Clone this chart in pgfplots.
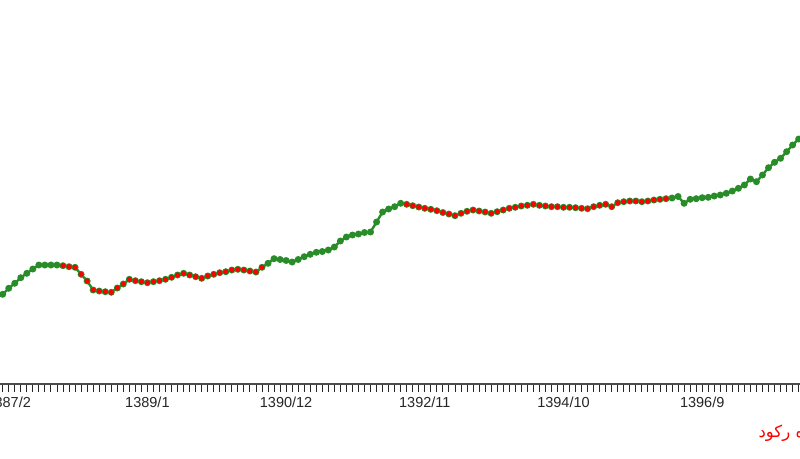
\documentclass[border=0pt]{standalone}
\usepackage{pgfplots}
\pgfplotsset{compat=1.18}
\usepackage{pgfplotstable}
\usepackage{fontspec}
\setmainfont{Liberation Sans}
\newfontfamily\arabicfont[Script=Arabic]{DejaVu Sans}
\TeXXeTstate=1
\definecolor{lg}{RGB}{40,140,40}
\definecolor{rr}{RGB}{255,0,0}
\pgfplotstableread{
i v r
0 89.7 0
1 95.7 0
2 100.7 0
3 106.3 0
4 110.7 0
5 115 0
6 119 0
7 119 0
8 119 0
9 119 0
10 118.3 1
11 117.3 1
12 116.7 1
13 109.7 1
14 103 1
15 94 1
16 93 1
17 92.3 1
18 91.7 1
19 96 1
20 100 1
21 104.7 1
22 103.3 1
23 102.3 1
24 101.3 1
25 102.3 1
26 103.3 1
27 104.7 1
28 106.7 1
29 109 1
30 110.7 1
31 109 1
32 107.3 1
33 105.7 1
34 108 1
35 109.7 1
36 111.3 1
37 112.3 1
38 114 1
39 114.7 1
40 114 1
41 113 1
42 112 1
43 116.7 1
44 120.7 0
45 125.3 0
46 124.5 0
47 123.5 0
48 122 0
49 124.5 0
50 127.3 0
51 129.7 0
52 131.7 0
53 132.5 0
54 134 0
55 137 0
56 143 0
57 147 0
58 149 0
59 150 0
60 151.5 0
61 152 0
62 162 0
63 172 0
64 175 0
65 177.3 0
66 180.7 0
67 179.7 1
68 178.3 1
69 177 1
70 175.7 1
71 174.7 1
72 173.3 1
73 171.5 1
74 170 1
75 168.3 1
76 170.7 1
77 172.7 1
78 174 1
79 173 1
80 172 1
81 170.7 1
82 172.3 1
83 174 1
84 175.7 1
85 176.7 1
86 178 1
87 178.7 1
88 179.7 1
89 178.7 1
90 178 1
91 177.3 1
92 177.3 1
93 176.7 1
94 176.7 1
95 176.3 1
96 175.7 1
97 175.3 1
98 177.3 1
99 178.7 1
100 179.7 1
101 177.3 1
102 181.3 1
103 182.3 1
104 183 1
105 183 1
106 182.3 1
107 183 1
108 184 1
109 184.7 1
110 185.3 1
111 186 0
112 187.5 0
113 180.7 0
114 184.7 0
115 185.3 0
116 186.3 0
117 186.7 0
118 188 0
119 189 0
120 190.7 0
121 193 0
122 195.7 0
123 199 0
124 205 0
125 202.3 0
126 209 0
127 216.3 0
128 221.7 0
129 225.7 0
130 232.3 0
131 239 0
132 245 0
133 250 0
}\data
\begin{document}
\begin{tikzpicture}[x=1pt,y=1pt]
\useasboundingbox (0,0) rectangle (800,-458);
\clip (0,0) rectangle (800,-458);
\begin{axis}[
  at={(-9.36pt,-384pt)}, anchor=south west,
  x=6.03pt, y=1pt,
  xmin=-2, xmax=135, ymin=0, ymax=384,
  axis x line=bottom, axis y line=none,
  axis line style={-, black!70, line width=1.4pt},
  xtick={1,24,47,70,93,116},
  xticklabels={1387/2,1389/1,1390/12,1392/11,1394/10,1396/9},
  minor xtick={-2,...,135},
  tick align=outside,
  major tick length=8pt, minor tick length=8pt,
  tick style={black!85, line width=0.9pt},
  xticklabel style={font=\fontsize{14.5}{16}\selectfont, text=black!85, yshift=-1.5pt},
  unbounded coords=discard,
]
\addplot[lg, line width=2.4pt, mark=*, mark size=2.2pt, mark options={fill=lg, draw=lg}] table[x=i, y=v] {\data};
\addplot[only marks, mark=*, mark size=2.3pt, mark options={fill=rr, draw=rr}, x filter/.expression={\thisrow{r}==1 ? \pgfmathresult : nan}] table[x=i, y=v] {\data};
\end{axis}
\node[anchor=east, text=rr, font={\arabicfont\fontsize{16.5}{18}\selectfont}] at (831,-433) {\beginR دوره رکود\endR};
\end{tikzpicture}
\end{document}
